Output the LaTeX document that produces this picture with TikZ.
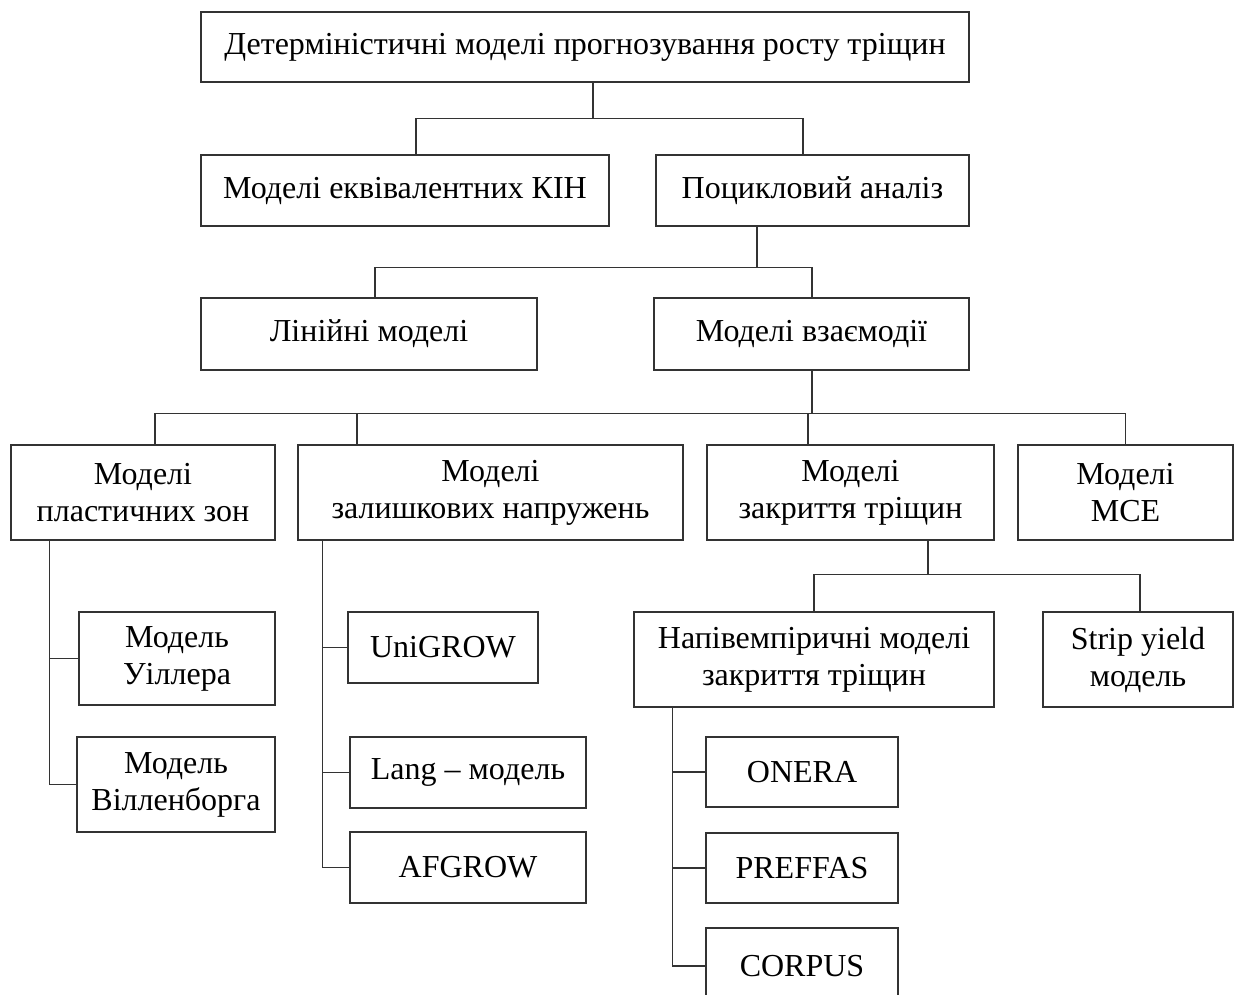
\documentclass[tikz,border=0pt]{standalone}
\usepackage{fontspec}
\setmainfont{Liberation Serif}
\begin{document}
\begin{tikzpicture}[x=1pt,y=-1pt,
  bx/.style={draw=black!80, line width=1.3pt, inner sep=0pt, align=center,
    font=\fontsize{32}{37}\selectfont},
  ln/.style={draw=black!80, line width=1.3pt}]
\newcommand\mkbox[6]{\node[bx, minimum width={(#4-#2)*1pt}, minimum height={(#5-#3)*1pt}] (#1) at ({(#2+#4)/2},{(#3+#5)/2}) {#6};}
\useasboundingbox (0,0) rectangle (1235,994);
\clip (0,0) rectangle (1235,994);
\fill[white] (0,0) rectangle (1235,994);
\mkbox{top}{201}{12}{969}{82}{Детерміністичні моделі прогнозування росту тріщин}
\mkbox{kin}{201}{155}{609}{226}{Моделі еквівалентних КІН}
\mkbox{poc}{656}{155}{969}{226}{Поцикловий аналіз}
\mkbox{lin}{201}{298}{537}{370}{Лінійні моделі}
\mkbox{vz}{654}{298}{969}{370}{Моделі взаємодії}
\mkbox{pl}{11}{445}{275}{540}{Моделі\\пластичних зон}
\mkbox{zal}{298}{445}{683}{540}{Моделі\\залишкових напружень}
\mkbox{zakr}{707}{445}{994}{540}{Моделі\\закриття тріщин}
\mkbox{mce}{1018}{445}{1233}{540}{Моделі\\MCE}
\mkbox{uil}{79}{612}{275}{705}{Модель\\Уіллера}
\mkbox{vil}{77}{737}{275}{832}{Модель\\Вілленборга}
\mkbox{uni}{348}{612}{538}{683}{UniGROW}
\mkbox{lang}{350}{737}{586}{808}{Lang – модель}
\mkbox{afg}{350}{832}{586}{903}{AFGROW}
\mkbox{nap}{634}{612}{994}{707}{Напівемпіричні моделі\\закриття тріщин}
\mkbox{strip}{1043}{612}{1233}{707}{Strip yield\\модель}
\mkbox{oner}{706}{737}{898}{807}{ONERA}
\mkbox{pref}{706}{833}{898}{903}{PREFFAS}
\mkbox{corp}{706}{928}{898}{1004}{CORPUS}
% level 1
\draw[ln] ([xshift=8]top.south) -- ++(0,36) coordinate (j1);
\draw[ln] ([xshift=11]kin.north) |- (j1) -| ([xshift=-9.5]poc.north);
% level 2
\draw[ln] ([xshift=-55.5]poc.south) -- ++(0,41) coordinate (j2);
\draw[ln] ([xshift=6]lin.north) |- (j2) -| ([xshift=0.5]vz.north);
% level 3
\draw[ln] ([xshift=0.5]vz.south) -- ++(0,43) coordinate (j3);
\draw[ln] ([xshift=12]pl.north) |- (j3) -| (mce.north);
\draw[ln] ([xshift=-133.5]zal.north) -- ([xshift=-133.5]zal.north |- j3);
\draw[ln] ([xshift=-42.5]zakr.north) -- ([xshift=-42.5]zakr.north |- j3);
% plastic zones branch
\draw[ln] ([xshift=39]pl.south west) coordinate (pv) |- (vil.west);
\draw[ln] (uil.west) -- (uil.west -| pv);
% residual stresses branch
\draw[ln] ([xshift=25]zal.south west) coordinate (zv) |- (afg.west);
\draw[ln] (uni.west) -- (uni.west -| zv);
\draw[ln] (lang.west) -- (lang.west -| zv);
% closure branch
\draw[ln] ([xshift=77.5]zakr.south) -- ++(0,34) coordinate (j4);
\draw[ln] (nap.north) |- (j4) -| ([xshift=2]strip.north);
% semi-empirical branch
\draw[ln] ([xshift=39]nap.south west) coordinate (nv) |- (corp.west);
\draw[ln] (oner.west) -- (oner.west -| nv);
\draw[ln] (pref.west) -- (pref.west -| nv);
\end{tikzpicture}
\end{document}
